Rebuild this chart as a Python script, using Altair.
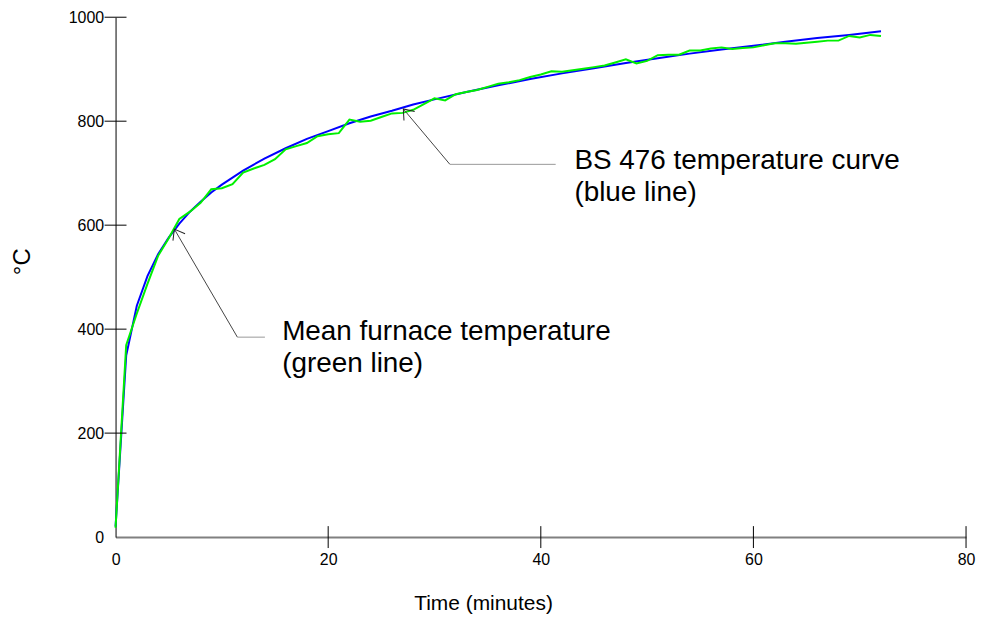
import altair as alt
import pandas as pd

FONT = "Liberation Sans"

# BS 476 standard curve (blue line)
bs_time = [0, 1, 2, 3, 4, 5, 6, 7, 8, 9, 10, 12, 14, 16, 18, 20, 22, 24, 26, 28, 30,
           33, 36, 39, 42, 45, 48, 51, 54, 57, 60, 63, 66, 69, 72]
bs_temp = [20, 349, 445, 502, 544, 576, 603, 626, 645, 663, 678, 705, 728, 748, 766, 781,
           796, 809, 820, 832, 842, 856, 869, 881, 892, 902, 912, 921, 930, 938, 945, 953,
           960, 966, 973]

# Mean furnace temperature (green line), one reading per minute
furnace_time = list(range(0, 73))
furnace_temp = [18, 369, 430, 487, 541, 575, 612, 626, 643, 669, 671, 679, 701, 709, 716,
                727, 746, 752, 758, 771, 775, 777, 803, 799, 801, 808, 815, 816, 822, 833,
                844, 840, 852, 856, 860, 866, 872, 875, 879, 885, 890, 896, 895, 898, 901,
                904, 907, 913, 919, 911, 916, 927, 928, 928, 936, 936, 940, 942, 939, 941,
                942, 946, 950, 950, 949, 951, 953, 955, 955, 964, 961, 966, 964]

x_ticks = [0, 20, 40, 60, 80]
y_ticks = [0, 200, 400, 600, 800, 1000]

# annotation leaders (data coordinates)
lead_x = [27.07, 31.45, 5.53, 11.46]
lead_y = [823.6, 717.0, 592.4, 384.6]
lead_x2 = [31.45, 41.4, 11.46, 14.05]
lead_y2 = [717.0, 717.0, 384.6, 384.6]
lead_kind = ["diag", "flat", "diag", "flat"]

arrow_x = [27.07, 5.53]
arrow_y = [823.6, 592.4]
arrow_angle = [320, 330]

note_x = [43.16, 43.16, 15.67, 15.67]
note_y = [707.4, 646.8, 378.3, 316.9]
note_text = ["BS 476 temperature curve", "(blue line)",
             "Mean furnace temperature", "(green line)"]

W, H = 854, 522

blue_df = pd.DataFrame({"t": bs_time, "T": bs_temp})
green_df = pd.DataFrame({"t": furnace_time, "T": furnace_temp})
lead_df = pd.DataFrame({"x": lead_x, "y": lead_y, "x2": lead_x2, "y2": lead_y2, "kind": lead_kind})
arrow_df = pd.DataFrame({"x": arrow_x, "y": arrow_y, "angle": arrow_angle})
note_df = pd.DataFrame({"x": note_x, "y": note_y, "text": note_text})
xt_df = pd.DataFrame({"v": [v for v in x_ticks if v != 0]})
yt_df = pd.DataFrame({"v": [v for v in y_ticks if v != 0]})

xs = alt.Scale(domain=[0, 80], nice=False, zero=False)
ys = alt.Scale(domain=[0, 1000], nice=False, zero=False)

x_axis = alt.Axis(values=x_ticks, title="Time (minutes)", grid=False, ticks=False, tickSize=0,
                  domainColor="#808080", domainWidth=2, labelFont=FONT, labelFontSize=16,
                  labelColor="#000000", labelPadding=15, labelFlush=False, format="d",
                  titleFont=FONT, titleFontSize=21, titleFontWeight="normal", titleColor="#000000",
                  titleX=369, titleY=67, titleAlign="center", titleBaseline="middle")
y_axis = alt.Axis(values=y_ticks, title="°C", grid=False, ticks=False, tickSize=0,
                  domainColor="#000000", domainWidth=1, labelFont=FONT, labelFontSize=16,
                  labelColor="#000000", labelPadding=12, labelFlush=False, format="d",
                  titleFont=FONT, titleFontSize=24, titleFontWeight="normal", titleColor="#000000",
                  titleX=-93, titleY=245, titleAlign="center", titleBaseline="middle", titleAngle=270)

blue = alt.Chart(blue_df).mark_line(color="#0000ff", strokeWidth=2).encode(
    x=alt.X("t:Q", scale=xs, axis=x_axis),
    y=alt.Y("T:Q", scale=ys, axis=y_axis),
)
green = alt.Chart(green_df).mark_line(color="#00f000", strokeWidth=2).encode(
    x=alt.X("t:Q", scale=xs),
    y=alt.Y("T:Q", scale=ys),
)

ytick = alt.Chart(yt_df).mark_rule(color="#000000", strokeWidth=1).encode(
    y=alt.Y("v:Q", scale=ys), x=alt.value(-11), x2=alt.value(11))
xtick = alt.Chart(xt_df).mark_rule(color="#000000", strokeWidth=1).encode(
    x=alt.X("v:Q", scale=xs), y=alt.value(H - 11), y2=alt.value(H + 11))

leads = alt.Chart(lead_df).mark_rule(strokeWidth=1).encode(
    x=alt.X("x:Q", scale=xs), y=alt.Y("y:Q", scale=ys), x2="x2:Q", y2="y2:Q",
    color=alt.Color("kind:N", scale=alt.Scale(domain=["diag", "flat"], range=["#444444", "#999999"]),
                    legend=None))

arrows = alt.Chart(arrow_df).mark_point(shape="M -0.75 1 L 0 0 L 0.75 1", filled=False,
                                        size=350, stroke="#222222", strokeWidth=1, opacity=1).encode(
    x=alt.X("x:Q", scale=xs), y=alt.Y("y:Q", scale=ys), angle=alt.Angle("angle:Q", scale=None))

notes = alt.Chart(note_df).mark_text(font=FONT, fontSize=28, color="#000000", align="left",
                                     baseline="alphabetic").encode(
    x=alt.X("x:Q", scale=xs), y=alt.Y("y:Q", scale=ys), text="text:N")

chart = alt.layer(blue, green, ytick, xtick, leads, arrows, notes).properties(
    width=W, height=H,
    autosize=alt.AutoSizeParams(type="none"),
    padding={"left": 108, "top": 8, "right": 10, "bottom": 84},
).configure_view(stroke=None)

chart.save("out.html", embed_options={"renderer": "svg", "actions": False})
